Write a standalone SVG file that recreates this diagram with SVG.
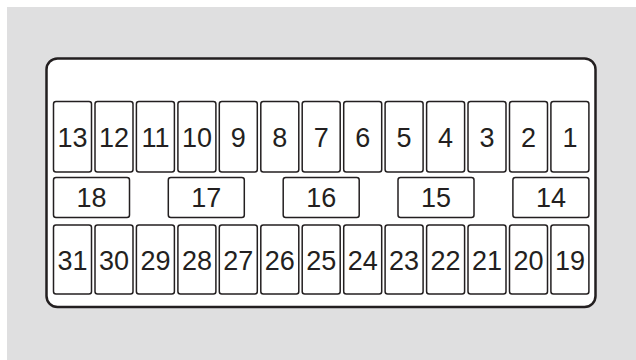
<svg xmlns="http://www.w3.org/2000/svg" width="636" height="360" viewBox="0 0 636 360">
<style>
.bg{fill:#dfdfe0}
.panel{fill:#ffffff;stroke:#231f20;stroke-width:2.5}
.f rect{fill:#ffffff;stroke:#231f20;stroke-width:1.5}
.f text{font-family:"Liberation Sans",Arial,sans-serif;font-size:27px;fill:#231f20;text-anchor:middle}
</style>
<rect class="bg" x="7" y="7" width="629" height="353"/>
<rect id="panel" class="panel" x="46.5" y="58.5" width="549" height="248.5" rx="11"/>
<g id="fuses" class="f">
<g id="f13"><rect x="53.5" y="101.5" width="38" height="70.5" rx="2.5"/><text x="72.5" y="146.5">13</text></g>
<g id="f12"><rect x="95" y="101.5" width="38" height="70.5" rx="2.5"/><text x="114" y="146.5">12</text></g>
<g id="f11"><rect x="136.4" y="101.5" width="38" height="70.5" rx="2.5"/><text x="155.4" y="146.5">11</text></g>
<g id="f10"><rect x="177.9" y="101.5" width="38" height="70.5" rx="2.5"/><text x="196.9" y="146.5">10</text></g>
<g id="f9"><rect x="219.3" y="101.5" width="38" height="70.5" rx="2.5"/><text x="238.3" y="146.5">9</text></g>
<g id="f8"><rect x="260.8" y="101.5" width="38" height="70.5" rx="2.5"/><text x="279.8" y="146.5">8</text></g>
<g id="f7"><rect x="302.2" y="101.5" width="38" height="70.5" rx="2.5"/><text x="321.2" y="146.5">7</text></g>
<g id="f6"><rect x="343.7" y="101.5" width="38" height="70.5" rx="2.5"/><text x="362.7" y="146.5">6</text></g>
<g id="f5"><rect x="385.1" y="101.5" width="38" height="70.5" rx="2.5"/><text x="404.1" y="146.5">5</text></g>
<g id="f4"><rect x="426.6" y="101.5" width="38" height="70.5" rx="2.5"/><text x="445.6" y="146.5">4</text></g>
<g id="f3"><rect x="468" y="101.5" width="38" height="70.5" rx="2.5"/><text x="487" y="146.5">3</text></g>
<g id="f2"><rect x="509.5" y="101.5" width="38" height="70.5" rx="2.5"/><text x="528.5" y="146.5">2</text></g>
<g id="f1"><rect x="550.9" y="101.5" width="38" height="70.5" rx="2.5"/><text x="569.9" y="146.5">1</text></g>

<g id="f18"><rect x="53.5" y="177.5" width="76" height="40" rx="2.5"/><text x="91.5" y="207">18</text></g>
<g id="f17"><rect x="168.3" y="177.5" width="76" height="40" rx="2.5"/><text x="206.3" y="207">17</text></g>
<g id="f16"><rect x="283.2" y="177.5" width="76" height="40" rx="2.5"/><text x="321.2" y="207">16</text></g>
<g id="f15"><rect x="398" y="177.5" width="76" height="40" rx="2.5"/><text x="436" y="207">15</text></g>
<g id="f14"><rect x="512.9" y="177.5" width="76" height="40" rx="2.5"/><text x="550.9" y="207">14</text></g>

<g id="f31"><rect x="53.5" y="225" width="38" height="69" rx="2.5"/><text x="72.5" y="270">31</text></g>
<g id="f30"><rect x="95" y="225" width="38" height="69" rx="2.5"/><text x="114" y="270">30</text></g>
<g id="f29"><rect x="136.4" y="225" width="38" height="69" rx="2.5"/><text x="155.4" y="270">29</text></g>
<g id="f28"><rect x="177.9" y="225" width="38" height="69" rx="2.5"/><text x="196.9" y="270">28</text></g>
<g id="f27"><rect x="219.3" y="225" width="38" height="69" rx="2.5"/><text x="238.3" y="270">27</text></g>
<g id="f26"><rect x="260.8" y="225" width="38" height="69" rx="2.5"/><text x="279.8" y="270">26</text></g>
<g id="f25"><rect x="302.2" y="225" width="38" height="69" rx="2.5"/><text x="321.2" y="270">25</text></g>
<g id="f24"><rect x="343.7" y="225" width="38" height="69" rx="2.5"/><text x="362.7" y="270">24</text></g>
<g id="f23"><rect x="385.1" y="225" width="38" height="69" rx="2.5"/><text x="404.1" y="270">23</text></g>
<g id="f22"><rect x="426.6" y="225" width="38" height="69" rx="2.5"/><text x="445.6" y="270">22</text></g>
<g id="f21"><rect x="468" y="225" width="38" height="69" rx="2.5"/><text x="487" y="270">21</text></g>
<g id="f20"><rect x="509.5" y="225" width="38" height="69" rx="2.5"/><text x="528.5" y="270">20</text></g>
<g id="f19"><rect x="550.9" y="225" width="38" height="69" rx="2.5"/><text x="569.9" y="270">19</text></g>
</g>
<g id="connectors"/>
</svg>
